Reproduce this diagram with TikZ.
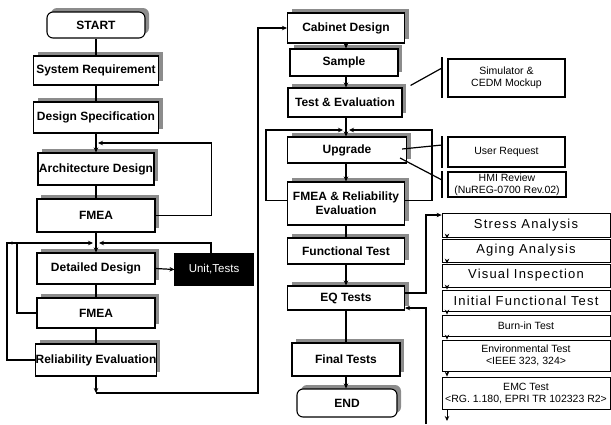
\documentclass[tikz,border=0pt]{standalone}
\usepackage{fontspec}
\setmainfont{Liberation Sans}
\usetikzlibrary{shadows,arrows.meta}

\tikzset{
  box/.style={draw, line width=1.1pt, fill=white, inner sep=0pt, align=center,
    font=\fontsize{12}{14}\selectfont\bfseries,
    drop shadow={shadow xshift=4pt, shadow yshift=4pt, opacity=1, fill=black!45}},
  term/.style={box, rounded corners=6pt},
  blackbox/.style={draw, line width=1.1pt, fill=black, text=white, inner sep=0pt,
    font=\fontsize{11.5}{13}\selectfont},
  side/.style={draw, line width=1.1pt, fill=white, inner sep=0pt, align=center,
    font=\fontsize{10.5}{12}\selectfont},
  test/.style={draw, line width=0.8pt, fill=white, inner sep=0pt, align=center,
    minimum width=168pt, font=\fontsize{13}{15}\selectfont\addfontfeatures{LetterSpace=9}},
  testsm/.style={test, font=\fontsize{10.5}{12}\selectfont},
  ln/.style={line width=1.2pt},
  ar/.style={ln, -{Stealth[length=5pt,width=4.5pt]}},
  brk/.style={line width=1.1pt},
}

\begin{document}
\begin{tikzpicture}[x=1pt,y=1pt]
\useasboundingbox (0,0) rectangle (611,-424);

% ---------- left column: system design ----------
\node[term, minimum width=98pt,  minimum height=26pt] (start)   at (96,-25)    {START};
\node[box,  minimum width=125pt, minimum height=29pt] (sysreq)  at (96,-70.5)  {System Requirement};
\node[box,  minimum width=125pt, minimum height=31pt] (desspec) at (96,-117.5) {Design Specification};
\node[box,  minimum width=116pt, minimum height=32pt] (arch)    at (96,-169)   {Architecture Design};
\node[box,  minimum width=118pt, minimum height=33pt] (fmeaA)   at (96,-215.5) {FMEA};
\node[box,  minimum width=118pt, minimum height=31pt] (detdes)  at (96,-268.5) {Detailed Design};
\node[blackbox, minimum width=78pt, minimum height=31pt] (unit) at (214,-269.5) {Unit,Tests};
\node[box,  minimum width=118pt, minimum height=30pt] (fmeaB)   at (96,-313)   {FMEA};
\node[box,  minimum width=118pt, minimum height=32pt] (releval) at (96,-360)   {Reliability Evaluation};

% ---------- middle column: hardware ----------
\node[box,  minimum width=117pt, minimum height=30pt] (cab)      at (346,-28)    {Cabinet Design};
\node[box,  minimum width=108pt, minimum height=27pt] (sample)   at (344,-62.5)  {Sample};
\node[box,  minimum width=114pt, minimum height=29pt] (testev)   at (345,-102.5) {Test \& Evaluation};
\node[box,  minimum width=119pt, minimum height=26pt] (upgrade)  at (347,-150)   {Upgrade};
\node[box,  minimum width=117pt, minimum height=43pt] (fmearel)  at (346,-203.5) {FMEA \& Reliability\\Evaluation};
\node[box,  minimum width=117pt, minimum height=26pt] (functest) at (346,-251)   {Functional Test};
\node[box,  minimum width=117pt, minimum height=24pt] (eq)       at (346,-298)   {EQ Tests};
\node[box,  minimum width=108pt, minimum height=33pt] (final)    at (346,-359.5) {Final Tests};
\node[term, minimum width=100pt, minimum height=28pt] (end)      at (347,-403)   {END};

% ---------- side inputs ----------
\node[side, minimum width=117pt, minimum height=38pt] (sim)  at (506.5,-78)   {Simulator \&\\CEDM Mockup};
\node[side, minimum width=117pt, minimum height=30pt] (user) at (506.5,-152)  {User Request};
\node[side, minimum width=118pt, minimum height=25pt] (hmi)  at (507,-184.5)  {HMI Review\\(NuREG-0700 Rev.02)};

% ---------- EQ test sequence ----------
\node[test,   minimum height=24pt] (stress)  at (526,-225)   {Stress Analysis};
\node[test,   minimum height=23pt] (aging)   at (526,-250.5) {Aging Analysis};
\node[test,   minimum height=23pt] (visual)  at (526,-275.5) {Visual Inspection};
\node[test,   minimum height=21pt] (initial) at (526,-300.5) {Initial Functional Test};
\node[testsm, minimum height=21pt] (burn)    at (526,-325.5) {Burn-in Test};
\node[testsm, minimum height=31pt] (env)     at (526,-355.5) {Environmental Test\\<IEEE 323, 324>};
\node[testsm, minimum height=32pt] (emc)     at (526,-393)   {EMC Test\\<RG. 1.180, EPRI TR 102323 R2>};

% ---------- left column connectors ----------
\draw[ln] (start) -- (sysreq);
\draw[ln] (sysreq) -- (desspec);
\draw[ar] (desspec) -- (arch);
\draw[ln] (arch) -- (fmeaA);
\coordinate (jA) at (96,-143);
\draw[ar] (fmeaA.east) -- ++(56,0) |- ([xshift=2pt]jA);
\coordinate (jB) at (96,-243);
\draw[ar] (fmeaA) -- (detdes);
\draw[ar] ([xshift=-3pt]unit.north) |- ([xshift=3pt]jB);
\draw[ar] (releval.west) -- (7,-360) |- ([xshift=-3pt]jB);
\draw[ln] (fmeaB.west) -- (17,-313) -- (17,-243);
\fill (12,-243) circle (1.7pt);
\draw[ar] (detdes.east) -- (unit.west);
\draw[ln] (detdes) -- (fmeaB);
\draw[ln] (fmeaB) -- (releval);
\coordinate (jC) at (96,-393);
\draw[ar] (releval.south) -- (jC);
\draw[ar] (jC) -- (258,-393) |- (cab.west);

% ---------- middle column connectors ----------
\draw[ar] (cab.south -| 346,0) -- (sample.north -| 346,0);
\draw[ar] (sample.south -| 346,0) -- (testev.north -| 346,0);
\draw[ar] (testev.south -| 346,0) -- (upgrade.north -| 346,0);
\draw[ar] (upgrade.south -| 346,0) -- (fmearel.north -| 346,0);
\draw[ln] (fmearel) -- (functest);
\draw[ar] (functest) -- (eq);
\draw[ln] (eq) -- (final);
\draw[ar] (final.south -| 346,0) -- (end.north -| 346,0);
\coordinate (jD) at (346,-130);
\draw[ar] ([yshift=3pt]fmearel.west) -- ++(-21,0) |- ([xshift=-3pt]jD);
\draw[ar] ([yshift=3pt]fmearel.east) -- ++(27,0) |- ([xshift=3pt]jD);

% ---------- side input links ----------
\draw[brk] (442,-57) -- (442,-98);
\draw[brk] (442,-136) -- (442,-168);
\draw[brk] (442,-171) -- (442,-198);
\draw[ln] ([xshift=8pt,yshift=2pt]testev.north east) -- (442,-68);
\draw[ln] ([xshift=-5pt,yshift=1pt]upgrade.east) -- (442,-145);
\draw[ln] ([xshift=-7pt,yshift=-8pt]upgrade.east) -- (442,-180);

% ---------- EQ test sequence connectors ----------
\draw[ar] ([yshift=5pt]eq.east) -- (426,-293) |- ([yshift=10pt]stress.west);
\draw[ar] (426,-424) |- ([yshift=-10pt]eq.east);
\foreach \a/\b in {stress/aging, aging/visual, visual/initial, initial/burn, burn/env, env/emc}
  \draw[ar, line width=0.9pt] (\a.south -| 447,0) -- (\b.north -| 447,0);
\draw[ar, line width=0.9pt] (emc.south -| 447,0) -- (447,-421);
\end{tikzpicture}
\end{document}
